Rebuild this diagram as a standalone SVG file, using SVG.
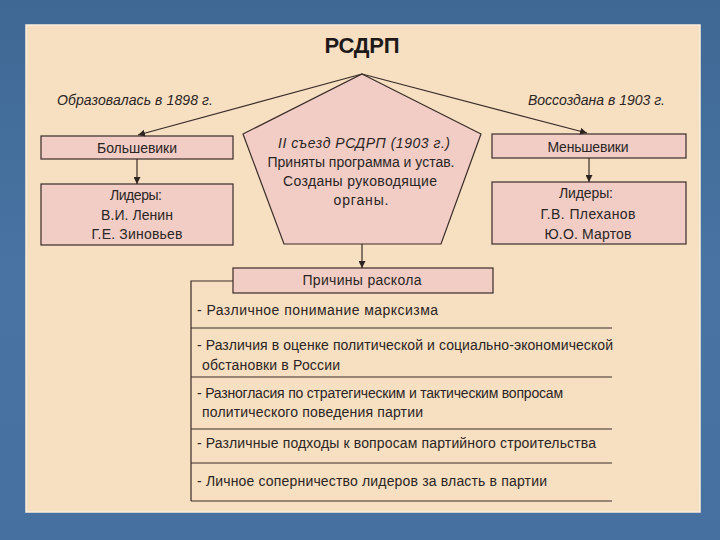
<svg xmlns="http://www.w3.org/2000/svg" width="720" height="540" viewBox="0 0 720 540">
  <defs>
    <linearGradient id="bg" x1="0" y1="0" x2="0" y2="1">
      <stop offset="0" stop-color="#3f6894"/>
      <stop offset="0.5" stop-color="#4873a2"/>
      <stop offset="1" stop-color="#4570a0"/>
    </linearGradient>
    <marker id="arr" viewBox="0 0 10 10" refX="10" refY="5" markerWidth="7" markerHeight="7" markerUnits="userSpaceOnUse" orient="auto">
      <path d="M0,0 L10,5 L0,10 z" fill="#2e2522"/>
    </marker>
    <style>
      text { font-family: "Liberation Sans", Arial, sans-serif; fill: #2b2523; font-size: 14px; }
      .c { text-anchor: middle; }
      .i { font-style: italic; }
      .title { font-size: 22px; font-weight: bold; fill: #1e1a19; }
      .box { fill: #f1cdc6; stroke: #3a2c28; stroke-width: 1.2; }
      .ln { fill: none; stroke: #3a2c28; stroke-width: 1.2; }
      .ar { fill: none; stroke: #3a2c28; stroke-width: 1.2; marker-end: url(#arr); }
    </style>
  </defs>

  <rect x="0" y="0" width="720" height="540" fill="url(#bg)"/>
  <rect x="26" y="25" width="674" height="487" fill="#f7dfc2" stroke="#fbeedd" stroke-width="1.5"/>

  <g id="title">
    <text class="title c" x="362" y="53" textLength="75">РСДРП</text>
  </g>

  <g id="label-left">
    <text class="i" x="57" y="105" textLength="156">Образовалась в 1898 г.</text>
  </g>
  <g id="label-right">
    <text class="i" x="528" y="105" textLength="137">Воссоздана в 1903 г.</text>
  </g>

  <g id="congress">
    <polygon class="box" points="362,74 481,134 441,244 284,244 243,134"/>
    <text class="c i" x="364" y="148" textLength="172">II съезд РСДРП (1903 г.)</text>
    <text class="c" x="361" y="167" textLength="187">Приняты программа и устав.</text>
    <text class="c" x="360" y="186" textLength="154">Созданы руководящие</text>
    <text class="c" x="361" y="205" textLength="55">органы.</text>
  </g>

  <g id="bolsheviks">
    <rect class="box" x="41" y="136" width="192" height="23"/>
    <text class="c" x="137" y="153" textLength="80">Большевики</text>
  </g>
  <g id="bolsheviks-leaders">
    <rect class="box" x="41" y="184" width="192" height="61"/>
    <text class="c" x="136" y="200" textLength="52">Лидеры:</text>
    <text class="c" x="137" y="220" textLength="72">В.И. Ленин</text>
    <text class="c" x="137" y="239" textLength="91">Г.Е. Зиновьев</text>
  </g>

  <g id="mensheviks">
    <rect class="box" x="492" y="134" width="194" height="24"/>
    <text class="c" x="588" y="152" textLength="81">Меньшевики</text>
  </g>
  <g id="mensheviks-leaders">
    <rect class="box" x="492" y="182" width="194" height="62"/>
    <text class="c" x="586" y="198" textLength="54">Лидеры:</text>
    <text class="c" x="588" y="219" textLength="95">Г.В. Плеханов</text>
    <text class="c" x="588" y="239" textLength="87">Ю.О. Мартов</text>
  </g>

  <g id="reasons">
    <rect class="box" x="233" y="268" width="260" height="25"/>
    <text class="c" x="362" y="285" textLength="119">Причины раскола</text>
  </g>

  <g id="reasons-list">
    <text x="197" y="315" textLength="241">- Различное понимание марксизма</text>
    <text x="197" y="350" textLength="416">- Различия в оценке политической и социально-экономической</text>
    <text x="202" y="370" textLength="138">обстановки в России</text>
    <text x="197" y="398" textLength="366">- Разногласия по стратегическим и тактическим вопросам</text>
    <text x="202" y="417" textLength="221">политического поведения партии</text>
    <text x="197" y="448" textLength="399">- Различные подходы к вопросам партийного строительства</text>
    <text x="197" y="486" textLength="350">- Личное соперничество лидеров за власть в партии</text>
  </g>

  <g id="connectors">
    <line class="ar" x1="362" y1="74" x2="138" y2="135"/>
    <line class="ar" x1="362" y1="74" x2="587" y2="133"/>
    <line class="ar" x1="137" y1="159" x2="137" y2="184"/>
    <line class="ar" x1="589" y1="158" x2="589" y2="182"/>
    <line class="ar" x1="362" y1="244" x2="362" y2="268"/>
    <polyline class="ln" points="233,281 191,281 191,501"/>
    <line class="ln" x1="191" y1="328" x2="612" y2="328"/>
    <line class="ln" x1="191" y1="377" x2="612" y2="377"/>
    <line class="ln" x1="191" y1="429" x2="612" y2="429"/>
    <line class="ln" x1="191" y1="463" x2="612" y2="463"/>
    <line class="ln" x1="191" y1="501" x2="612" y2="501"/>
  </g>
</svg>
